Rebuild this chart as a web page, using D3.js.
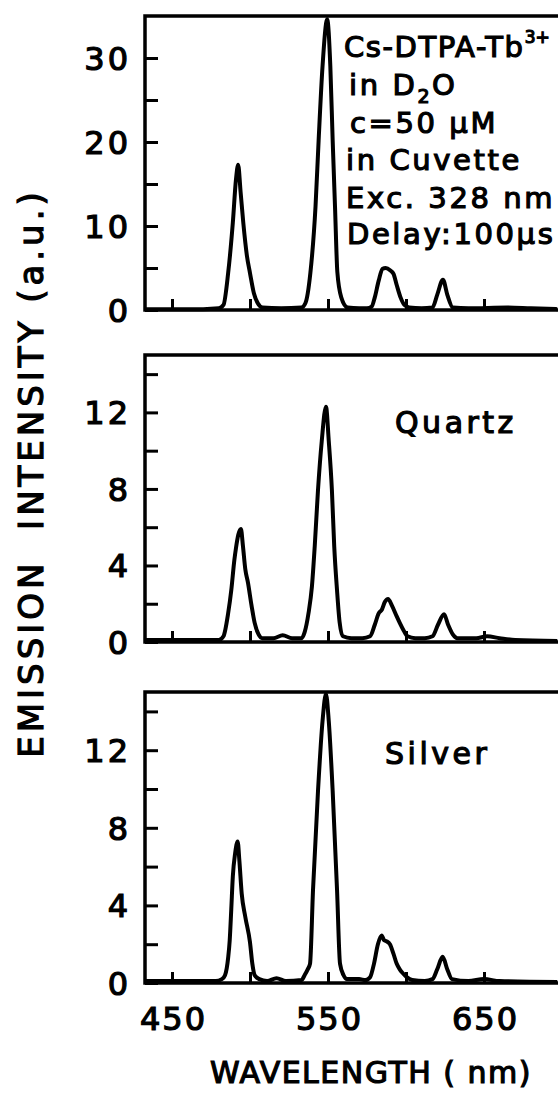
<!DOCTYPE html>
<html>
<head>
<meta charset="utf-8">
<title>Cs-DTPA-Tb3+ emission spectra</title>
<script src="https://d3js.org/d3.v7.min.js"></script>
<style>
  body { margin: 0; background: #fff; }
  svg { display: block; }
  text { font-family: "DejaVu Sans", sans-serif; fill: #000; stroke: #000; stroke-width: 1.2px; }
</style>
</head>
<body>
<svg id="chart" width="558" height="1095"></svg>
<script>
// spectra: wavelength (nm) / intensity (a.u.)
const wlCuvette = [433, 470, 480, 483, 486, 489, 491, 492.4, 494, 495.7, 498, 500, 502.5, 505, 508, 520,
  533, 535.5, 538.7, 542, 544, 546.5, 549.5, 551.5, 553, 554.5, 556, 558.5, 562.5, 570,
  575, 578, 580, 582.5, 585, 587, 590, 592, 594, 596.5, 599, 602, 610,
  617, 620, 623.7, 626.5, 630, 640, 665, 680, 697];
const intCuvette = [0.1, 0.1, 0.2, 0.6, 4.4, 10.4, 15.5, 17.3, 14, 10.4, 6.5, 4.4, 2, 0.8, 0.3, 0.2,
  0.3, 0.8, 4.4, 12.3, 20.2, 29, 34.6, 29, 20.2, 12.3, 4.5, 1.5, 0.3, 0.2,
  0.2, 0.4, 1.5, 3.5, 4.9, 5.0, 4.7, 4.3, 3.0, 1.5, 0.6, 0.3, 0.2,
  0.3, 1.8, 3.6, 1.8, 0.3, 0.2, 0.3, 0.2, 0.1];

const wlQuartz = [433, 470, 480, 483, 486, 488, 490, 491, 492.5, 494.2, 495.5, 497, 498.7, 501, 503, 505.5, 508,
  515, 521, 527, 533, 535, 537.5, 539.7, 541.5, 543.6, 546, 548.7, 550.5, 552.5, 554, 555.8, 557.5, 559.6, 565,
  572, 577, 580, 582.5, 584.6, 586.5, 588.5, 591, 594, 596, 598.5, 601, 606,
  612, 617, 620.5, 624.4, 627, 630, 633, 645, 652, 660, 670, 697];
const intQuartz = [0.1, 0.1, 0.1, 0.3, 1.5, 2.7, 4.3, 4.9, 5.6, 5.9, 5.0, 3.8, 3.1, 1.9, 1.0, 0.4, 0.2,
  0.2, 0.35, 0.2, 0.2, 0.5, 1.5, 2.9, 5, 7.95, 10.5, 12.3, 10.5, 7.95, 5, 2.7, 1.0, 0.3, 0.2,
  0.2, 0.3, 0.9, 1.5, 1.7, 2.1, 2.25, 1.9, 1.35, 1.0, 0.6, 0.3, 0.2,
  0.2, 0.3, 0.9, 1.45, 0.9, 0.4, 0.2, 0.2, 0.3, 0.2, 0.1, 0.05];

const wlSilver = [433, 478, 482, 484, 486, 487, 488, 489, 490.5, 492.1, 493.2, 494.7, 497, 500, 501.5, 503, 506,
  511, 517, 523, 533, 535, 537, 538.5, 540.4, 543.6, 546.5, 548.7, 550.5, 553, 555.8, 557.7, 560, 562,
  570, 574, 577, 579.5, 582, 584.4, 586, 587.5, 589.7, 592, 594, 596, 598, 600.5, 604,
  612, 617, 620, 623.5, 626.5, 629.5, 640, 650, 660, 697];
const intSilver = [0.1, 0.1, 0.2, 0.4, 1.3, 2.2, 3.8, 5.5, 6.7, 7.3, 6.3, 4.6, 3.4, 2.1, 1.0, 0.4, 0.2,
  0.1, 0.25, 0.1, 0.15, 0.4, 0.7, 1.0, 4.8, 9.9, 13.5, 14.9, 13.5, 9.9, 4.8, 1.0, 0.4, 0.2,
  0.2, 0.15, 0.3, 1.0, 2.0, 2.45, 2.2, 2.15, 2.0, 1.5, 1.0, 0.7, 0.5, 0.3, 0.15,
  0.1, 0.2, 0.7, 1.35, 0.7, 0.2, 0.1, 0.2, 0.1, 0.05];

const yMaxCuvette = 35, yMaxSlide = 15;
const yLabelsCuvette = [0, 10, 20, 30];
const yLabelsSlide = [0, 4, 8, 12];
const xTicks = [450, 500, 550, 600, 650];
const xLabels = [450, 550, 650];
const panelNames = ["", "Quartz", "Silver"];
const noteLines = [
  [["Cs-DTPA-Tb", "n"], ["3+", "sup"]],
  [["in D", "n"], ["2", "sub"], ["O", "n"]],
  [["c=50 µM", "n"]],
  [["in Cuvette", "n"]],
  [["Exc. 328 nm", "n"]],
  [["Delay:100µs", "n"]]
];

var svg = d3.select("#chart");

var x = d3.scaleLinear().domain([432.7, 696.8]).range([145, 557]);

var panels = [
  {wl: wlCuvette, val: intCuvette, max: yMaxCuvette, step: 5, labels: yLabelsCuvette, top: 16, bottom: 310},
  {wl: wlQuartz, val: intQuartz, max: yMaxSlide, step: 2, labels: yLabelsSlide, top: 355, bottom: 642},
  {wl: wlSilver, val: intSilver, max: yMaxSlide, step: 2, labels: yLabelsSlide, top: 692, bottom: 983}
];

panels.forEach(function(p, i) {
  var y = d3.scaleLinear().domain([0, p.max]).range([p.bottom, p.top]);
  var g = svg.append("g");

  svg.append("clipPath").attr("id", "clip" + i)
    .append("rect").attr("x", 145).attr("y", p.top).attr("width", 413).attr("height", p.bottom - p.top + 3);

  // spectrum
  var pts = p.wl.map(function(w, k) { return [w, p.val[k]]; });
  g.append("path")
    .datum(pts)
    .attr("clip-path", "url(#clip" + i + ")")
    .attr("fill", "none")
    .attr("stroke", "#000")
    .attr("stroke-width", 4)
    .attr("stroke-linejoin", "round")
    .attr("d", d3.line()
      .x(function(d) { return x(d[0]); })
      .y(function(d) { return y(d[1]); })
      .curve(d3.curveMonotoneX));

  // frame
  g.append("rect")
    .attr("x", 145).attr("y", p.top)
    .attr("width", 416).attr("height", p.bottom - p.top)
    .attr("fill", "none").attr("stroke", "#000").attr("stroke-width", 3.5);

  // left axis, ticks pointing inward
  var yAxis = d3.axisLeft(y)
    .tickValues(d3.range(0, p.max, p.step))
    .tickSize(-13)
    .tickPadding(14)
    .tickFormat(function(d) { return p.labels.indexOf(d) >= 0 ? d : ""; });
  var ya = g.append("g").attr("transform", "translate(145,0)").call(yAxis);
  ya.select(".domain").remove();
  ya.selectAll("line").attr("stroke", "#000").attr("stroke-width", 3);
  ya.selectAll("text")
    .style("font-size", "32px")
    .style("letter-spacing", "3px")
    .attr("font-family", null)
    .attr("dy", "0.36em");

  // bottom axis, ticks pointing up
  var xAxis = d3.axisBottom(x)
    .tickValues(xTicks)
    .tickSize(-11)
    .tickPadding(24)
    .tickFormat(function(d) { return (i === 2 && xLabels.indexOf(d) >= 0) ? d : ""; });
  var xa = g.append("g").attr("transform", "translate(0," + p.bottom + ")").call(xAxis);
  xa.select(".domain").remove();
  xa.selectAll("line").attr("stroke", "#000").attr("stroke-width", 3);
  xa.selectAll("text")
    .style("font-size", "32px")
    .style("letter-spacing", "2px")
    .attr("font-family", null)
    .attr("dx", "1px");

  if (panelNames[i]) {
    g.append("text")
      .attr("x", i === 1 ? 395 : 385)
      .attr("y", i === 1 ? 433 : 764)
      .style("font-size", "30px")
      .style("letter-spacing", "3.5px")
      .text(panelNames[i]);
  }
});

// annotation in the top panel
var noteY = [57, 95, 133, 170, 208, 244];
var noteX = [344, 349, 350, 346, 346, 347];
noteLines.forEach(function(line, k) {
  var t = svg.append("text")
    .attr("x", noteX[k]).attr("y", noteY[k])
    .style("font-size", "29px")
    .style("letter-spacing", k === 0 ? "1.6px" : "2.6px");
  var shift = 0;
  line.forEach(function(seg) {
    var dy = 0, size = "29px";
    if (seg[1] === "sup") { dy = -14 - shift; size = "17px"; }
    else if (seg[1] === "sub") { dy = 8 - shift; size = "19px"; }
    else { dy = -shift; }
    shift += dy;
    var ts = t.append("tspan").attr("dy", dy).style("font-size", size).text(seg[0]);
    if (seg[1] === "sup") ts.style("letter-spacing", "0px");
  });
});

// axis titles
svg.append("text")
  .attr("transform", "translate(43,473) rotate(-90)")
  .attr("text-anchor", "middle")
  .style("font-size", "34px")
  .style("letter-spacing", "4px")
  .style("white-space", "pre")
  .text("EMISSION  INTENSITY (a.u.)");

svg.append("text")
  .attr("x", 371).attr("y", 1083)
  .attr("text-anchor", "middle")
  .style("font-size", "30px")
  .style("letter-spacing", "1.5px")
  .style("white-space", "pre")
  .text("WAVELENGTH ( nm)");
</script>
</body>
</html>
